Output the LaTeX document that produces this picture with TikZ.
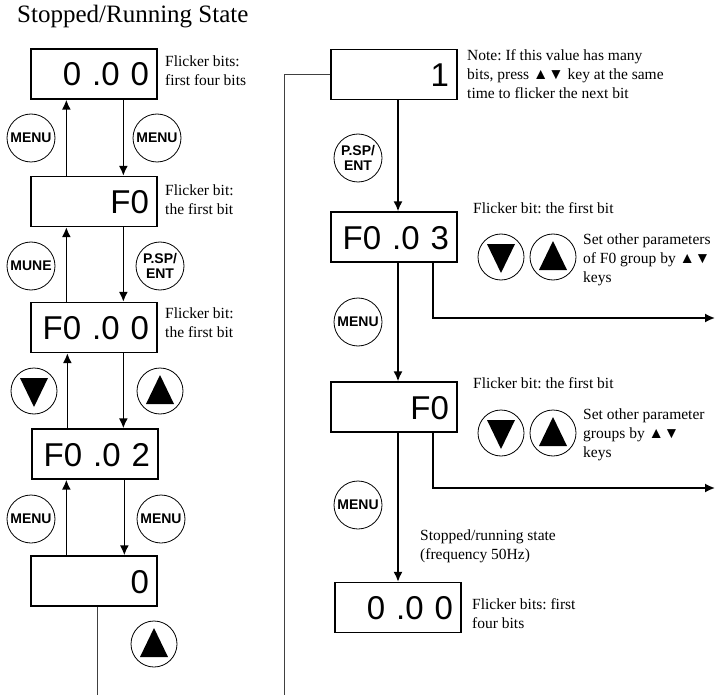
\documentclass[tikz,border=0pt]{standalone}
\usepackage{fontspec}
\setmainfont{Liberation Serif}
\newfontfamily\dispfont{Liberation Sans}
\usetikzlibrary{arrows.meta}
\frenchspacing

\begin{document}
\begin{tikzpicture}[x=1pt,y=-1pt,
		disp/.style={draw,line width=1.3pt,minimum height=50pt,text width=110pt,inner xsep=8pt,
			text height=24pt,text depth=0pt,align=right,font=\dispfont\fontsize{33}{33}\selectfont},
		key/.style={draw,circle,line width=0.8pt,minimum size=48pt,inner sep=0pt,align=center,
			font=\dispfont\bfseries\fontsize{14}{14}\selectfont},
		keyent/.style={key,font=\dispfont\bfseries\fontsize{14}{15}\selectfont},
		keyup/.style={key,minimum size=46pt,path picture={\fill
			([yshift=16pt]path picture bounding box.center) --
			([shift={(-14pt,-13pt)}]path picture bounding box.center) --
			([shift={(14pt,-13pt)}]path picture bounding box.center) -- cycle;}},
		keydown/.style={key,minimum size=46pt,path picture={\fill
			([yshift=-16pt]path picture bounding box.center) --
			([shift={(-14pt,13pt)}]path picture bounding box.center) --
			([shift={(14pt,13pt)}]path picture bounding box.center) -- cycle;}},
		note/.style={anchor=north west,inner sep=0pt,align=left,font=\fontsize{15.5}{19}\selectfont},
		move/.style={line width=1.7pt,-{Latex[length=10pt,width=9pt]}},
		wire/.style={line width=0.9pt,black!75}]
	\useasboundingbox (0,0) rectangle (720,695);
	\node[anchor=base west,inner sep=0pt,font=\fontsize{25}{28}\selectfont] (title) at (17,23) {Stopped/Running State};

	\node[disp] (l1) at (94,74) {0 .0 0};
	\node[disp] (l2) at (94,201.5) {F0};
	\node[disp] (l3) at (94,327.5) {F0 .0 0};
	\node[disp] (l4) at (95,454) {F0 .0 2};
	\node[disp] (l5) at (94,581) {0};

	\node[disp] (r1) at (394,74.5) {1};
	\node[disp] (r2) at (394,237) {F0 .0 3};
	\node[disp] (r3) at (394,407) {F0};
	\node[disp] (r4) at (398,607.5) {0 .0 0};

	\foreach \up/\lo in {l1/l2,l2/l3,l3/l4,l4/l5} {
		\draw[move] ([xshift=36pt]\lo.north west) -- ([xshift=36pt]\lo.north west |- \up.south);
		\draw[move] ([xshift=93pt]\up.south west) -- ([xshift=93pt]\up.south west |- \lo.north);
	}
	\foreach \up/\lo in {r1/r2,r2/r3,r3/r4}
		\draw[move] ([xshift=4pt]\up.south) -- ([xshift=4pt]\up.south |- \lo.north);

	\coordinate (o1) at (715,318);
	\coordinate (o2) at (715,488);
	\draw[move] ([xshift=39pt]r2.south) |- (o1);
	\draw[move] ([xshift=39pt]r3.south) |- (o2);

	\coordinate (lb) at (97,695);
	\coordinate (rb) at (284,695);
	\draw[wire] (l5.south -| lb) -- (lb);
	\draw[wire] (r1.west) -| (rb);

	\node[key] (k1) at (31,138) {MENU};
	\node[key] (k2) at (157,138) {MENU};
	\node[key] (k3) at (31,266) {MUNE};
	\node[keyent] (k4) at (160,266) {P.SP/\\ENT};
	\node[keydown] (k5) at (34,391) {};
	\node[keyup] (k6) at (160,391) {};
	\node[key] (k7) at (31,519) {MENU};
	\node[key] (k8) at (161,519) {MENU};
	\node[keyup] (k9) at (154,644) {};

	\node[keyent] (k10) at (358,158) {P.SP/\\ENT};
	\node[key] (k11) at (358,322) {MENU};
	\node[keydown] (k12) at (501,257) {};
	\node[keyup] (k13) at (553,257) {};
	\node[keydown] (k14) at (501,433) {};
	\node[keyup] (k15) at (553,433) {};
	\node[key] (k16) at (358,505) {MENU};

	\node[note] (t1) at (165,56) {Flicker bits:\\first four bits};
	\node[note] (t2) at (165,185) {Flicker bit:\\the first bit};
	\node[note] (t3) at (165,308) {Flicker bit:\\the first bit};
	\node[note] (t4) at (467,49) {Note: If this value has many\\bits, press ▲▼ key at the same\\time to flicker the next bit};
	\node[note] (t5) at (473,202) {Flicker bit: the first bit};
	\node[note] (t6) at (583,234) {Set other parameters\\of F0 group by ▲▼\\keys};
	\node[note] (t7) at (473,377) {Flicker bit: the first bit};
	\node[note] (t8) at (583,409) {Set other parameter\\groups by ▲▼\\keys};
	\node[note] (t9) at (420,530) {Stopped/running state\\(frequency 50Hz)};
	\node[note] (t10) at (472,598) {Flicker bits: first\\four bits};
\end{tikzpicture}
\end{document}
